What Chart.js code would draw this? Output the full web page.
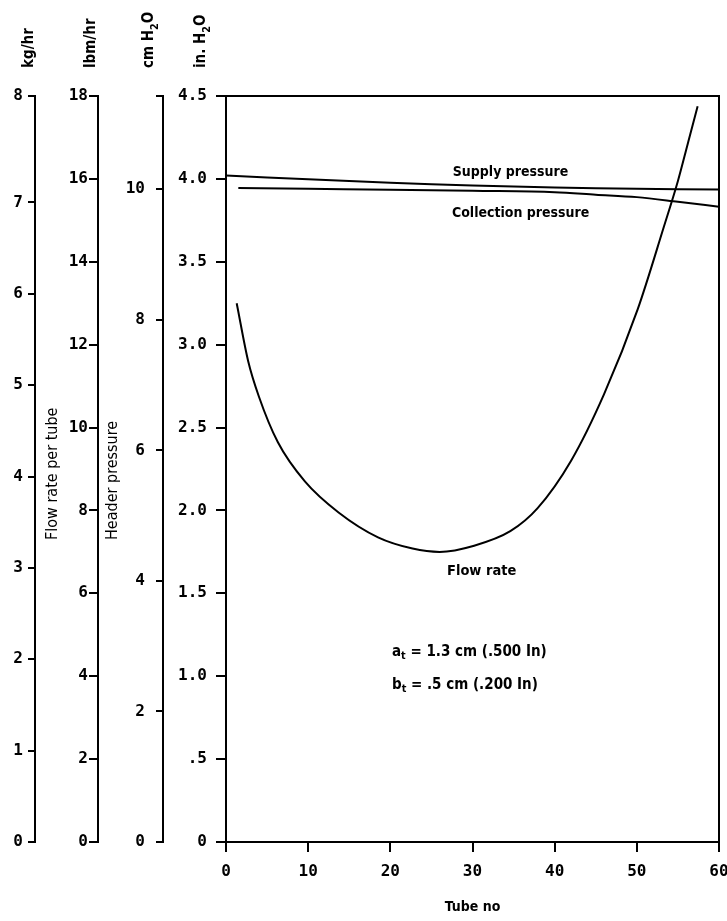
<!DOCTYPE html>
<html>
<head>
<meta charset="utf-8">
<script src="https://cdn.jsdelivr.net/npm/chart.js@4.4.1/dist/chart.umd.min.js"></script>
<style>
  html, body { margin: 0; padding: 0; background: #fff; }
  #caixa { width: 727px; height: 921px; }
</style>
</head>
<body>
<div id="caixa"><canvas id="grafico" width="727" height="921"></canvas></div>
<script>
// flow rate per tube (lbm/hr) against tube number
const tuboVazao = [1.3, 2.7, 4.0, 6.3, 9.6, 13.7, 18.5, 22.7, 26, 30.2, 34.6, 37.9, 42, 46, 50.1, 53.3, 55, 56.2, 57.4];
const vazaoLbm = [13.0, 11.6, 10.75, 9.65, 8.7, 7.95, 7.35, 7.08, 7.0, 7.15, 7.5, 8.05, 9.2, 10.8, 12.85, 14.85, 15.95, 16.85, 17.75];

// header pressures (in. H2O)
const tuboSupply = [0, 10, 20, 30, 40, 50, 60];
const supplyIn = [4.02, 3.998, 3.977, 3.96, 3.948, 3.94, 3.936];
const tuboColeta = [1.5, 10, 20, 30, 40, 45, 50, 55, 60];
const coletaIn = [3.945, 3.94, 3.935, 3.928, 3.92, 3.905, 3.89, 3.862, 3.832];

// tick values and labels for the four left axes
const kgTicks = [0, 1, 2, 3, 4, 5, 6, 7, 18 / 2.2046];
const kgLabels = ['0', '1', '2', '3', '4', '5', '6', '7', '8'];
const lbmTicks = [0, 2, 4, 6, 8, 10, 12, 14, 16, 18];
const lbmLabels = ['0', '2', '4', '6', '8', '10', '12', '14', '16', '18'];
const cmTicks = [0, 2, 4, 6, 8, 10, 4.5 * 2.54];
const cmLabels = ['0', '2', '4', '6', '8', '10', ''];
const inTicks = [0, 0.5, 1, 1.5, 2, 2.5, 3, 3.5, 4, 4.5];
const inLabels = ['0', '.5', '1.0', '1.5', '2.0', '2.5', '3.0', '3.5', '4.0', '4.5'];
const tuboTicks = [0, 10, 20, 30, 40, 50, 60];

const pontos = (xs, ys) => xs.map((x, i) => ({ x: x, y: ys[i] }));

const fonteNum = { family: '"DejaVu Sans Mono", monospace', size: 16, weight: 'bold' };
const fonteTxt = '"DejaVu Sans Condensed", "DejaVu Sans", sans-serif';

function eixoY(max, ticks, labels, peso, largura, tl, pad) {
  return {
    type: 'linear',
    position: 'left',
    weight: peso,
    min: 0,
    max: max,
    afterBuildTicks: s => { s.ticks = ticks.map(v => ({ value: v })); },
    afterFit: s => { s.width = largura; },
    ticks: {
      color: '#000',
      font: fonteNum,
      padding: pad,
      callback: (v, i) => labels[i]
    },
    grid: { drawOnChartArea: false, color: '#000', lineWidth: 2, tickLength: tl },
    border: { color: '#000', width: 2 }
  };
}

// little helper for text with subscripts
function textoRico(ctx, partes, x, y, tam) {
  let cx = x;
  partes.forEach(p => {
    const t = p.sub ? tam * 0.72 : tam;
    ctx.font = (p.bold === false ? '' : 'bold ') + t + 'px ' + fonteTxt;
    ctx.fillText(p.t, cx, y + (p.sub ? tam * 0.3 : 0));
    cx += ctx.measureText(p.t).width;
  });
}

const notas = [
  { tubo: 27.6, valor: 4.04, tam: 14, partes: [{ t: 'Supply pressure' }] },
  { tubo: 27.5, valor: 3.794, tam: 14, partes: [{ t: 'Collection pressure' }] },
  { tubo: 26.9, valor: 1.634, tam: 14.5, partes: [{ t: 'Flow rate' }] },
  { tubo: 20.2, valor: 1.146, tam: 15, partes: [{ t: 'a' }, { t: 't', sub: true }, { t: ' = 1.3 cm (.500 In)' }] },
  { tubo: 20.2, valor: 0.947, tam: 15, partes: [{ t: 'b' }, { t: 't', sub: true }, { t: ' = .5 cm (.200 In)' }] }
];

const unidades = [
  { eixo: 'kg', dx: -2, partes: [{ t: 'kg/hr' }] },
  { eixo: 'lbm', dx: -3, partes: [{ t: 'lbm/hr' }] },
  { eixo: 'cm', dx: -10, partes: [{ t: 'cm H' }, { t: '2', sub: true }, { t: 'O' }] },
  { eixo: 'inH2O', dx: -21, partes: [{ t: 'in. H' }, { t: '2', sub: true }, { t: 'O' }] }
];

const rotulos = {
  id: 'rotulos',
  afterDraw(chart) {
    const { ctx, scales, chartArea: a } = chart;
    ctx.save();
    // top and right sides of the frame
    ctx.strokeStyle = '#000';
    ctx.lineWidth = 2;
    ctx.beginPath();
    ctx.moveTo(a.left, a.top);
    ctx.lineTo(a.right, a.top);
    ctx.lineTo(a.right, a.bottom);
    ctx.stroke();

    ctx.fillStyle = '#000';
    ctx.textBaseline = 'middle';
    ctx.textAlign = 'left';
    notas.forEach(n => {
      textoRico(ctx, n.partes, scales.x.getPixelForValue(n.tubo), scales.inH2O.getPixelForValue(n.valor), n.tam);
    });

    // units above each axis, written upwards
    ctx.textBaseline = 'alphabetic';
    unidades.forEach(u => {
      ctx.save();
      ctx.translate(scales[u.eixo].right + u.dx, 68);
      ctx.rotate(-Math.PI / 2);
      textoRico(ctx, u.partes, 0, 0, 15);
      ctx.restore();
    });

    // axis names between the scales
    ctx.textBaseline = 'middle';
    [['Flow rate per tube', scales.kg.right + 18], ['Header pressure', scales.lbm.right + 15]].forEach(([t, x]) => {
      ctx.save();
      ctx.translate(x, 540);
      ctx.rotate(-Math.PI / 2);
      textoRico(ctx, [{ t: t, bold: false }], 0, 0, 16);
      ctx.restore();
    });
    ctx.restore();
  }
};

const ctx = document.getElementById('grafico');

new Chart(ctx, {
  type: 'line',
  data: {
    datasets: [
      { label: 'Flow rate', data: pontos(tuboVazao, vazaoLbm), yAxisID: 'lbm', borderColor: '#000', borderWidth: 2, pointRadius: 0, tension: 0.4, cubicInterpolationMode: 'monotone' },
      { label: 'Supply pressure', data: pontos(tuboSupply, supplyIn), yAxisID: 'inH2O', borderColor: '#000', borderWidth: 2, pointRadius: 0, tension: 0.2 },
      { label: 'Collection pressure', data: pontos(tuboColeta, coletaIn), yAxisID: 'inH2O', borderColor: '#000', borderWidth: 2, pointRadius: 0, tension: 0.4, cubicInterpolationMode: 'monotone' }
    ]
  },
  options: {
    responsive: false,
    animation: false,
    layout: { padding: { left: 0, right: 0, top: 96, bottom: 0 } },
    plugins: { legend: { display: false }, tooltip: { enabled: false } },
    scales: {
      x: {
        type: 'linear',
        position: 'bottom',
        min: 0,
        max: 60,
        afterBuildTicks: s => { s.ticks = tuboTicks.map(v => ({ value: v })); },
        afterFit: s => { s.height = 79; s.paddingLeft = 0; s.paddingRight = 8; },
        ticks: { color: '#000', font: fonteNum, padding: 10 },
        grid: { drawOnChartArea: false, color: '#000', lineWidth: 2, tickLength: 10 },
        border: { color: '#000', width: 2 },
        title: { display: true, text: 'Tube no', color: '#000', font: { family: fonteTxt, size: 14, weight: 'bold' }, padding: { top: 4, bottom: 5 } }
      },
      inH2O: eixoY(4.5, inTicks, inLabels, 1, 63, 10, 9),
      cm: eixoY(4.5 * 2.54, cmTicks, cmLabels, 2, 65, 7, 11),
      lbm: eixoY(18, lbmTicks, lbmLabels, 3, 63, 9, 1),
      kg: eixoY(18 / 2.2046, kgTicks, kgLabels, 4, 35, 7, 5)
    }
  },
  plugins: [rotulos]
});
</script>
</body>
</html>
